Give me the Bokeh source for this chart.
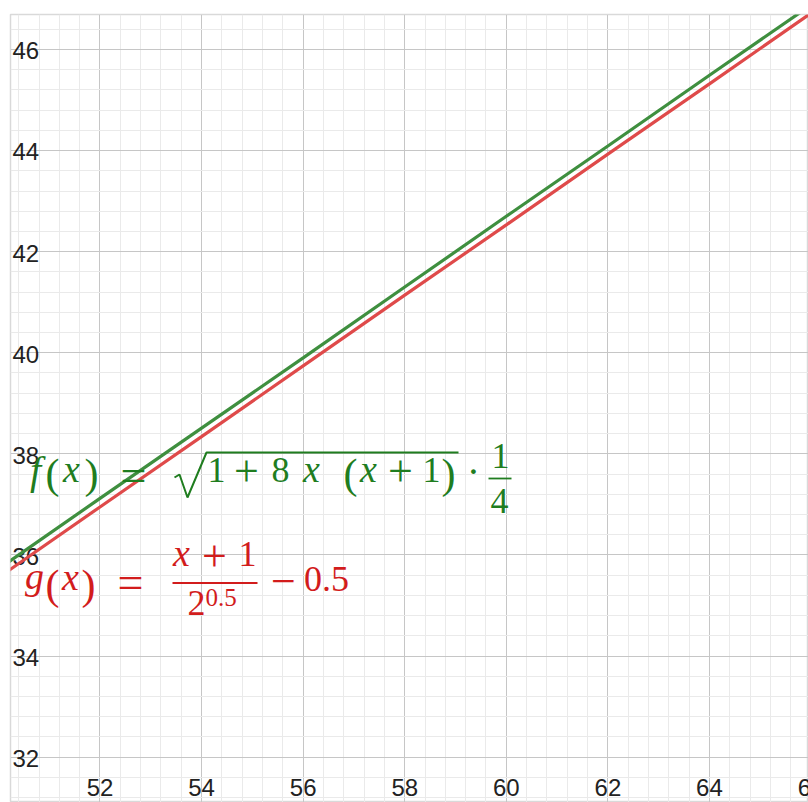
from bokeh.plotting import figure
from bokeh.models import SingleIntervalTicker
from bokeh.core.properties import value
from bokeh.embed import file_html
from bokeh.resources import INLINE

# ---- data ----
x_vals = [50, 52, 54, 56, 58, 60, 62, 64, 66]
f_vals = [35.72, 37.12, 38.51, 39.90, 41.30, 42.70, 44.09, 45.49, 46.88]
g_vals = [35.55, 36.95, 38.34, 39.74, 41.14, 42.53, 43.93, 45.32, 46.72]

x_ticks = [52, 54, 56, 58, 60, 62, 64, 66]
x_tick_labels = ["52", "54", "56", "58", "60", "62", "64", "66"]
y_ticks = [32, 34, 36, 38, 40, 42, 44, 46]
y_tick_labels = ["32", "34", "36", "38", "40", "42", "44", "46"]

# ---- view ----
X0, X1 = 50.238, 65.95
Y0, Y1 = 31.103, 46.692
FRAME_L, FRAME_T, FRAME_W, FRAME_H = 10, 14, 798, 788
SX = FRAME_W / (X1 - X0)
SY = FRAME_H / (Y1 - Y0)
SHIFT = 0.4  # baseline correction, fraction of font size


def X(px):
    return X0 + (px - FRAME_L) / SX


def Y(py):
    return Y1 - (py - FRAME_T) / SY


p = figure(width=808, height=802, x_range=(X0, X1), y_range=(Y0, Y1),
           output_backend="svg", toolbar_location=None,
           x_axis_location=None, y_axis_location=None,
           min_border=0, min_border_left=FRAME_L, min_border_top=FRAME_T,
           background_fill_color="white", border_fill_color="white")
p.outline_line_color = "#d9d9d9"
p.outline_line_width = 1.5

for g in (p.xgrid, p.ygrid):
    g.ticker = SingleIntervalTicker(interval=2, num_minor_ticks=5)
    g.grid_line_color = "#c6c6c6"
    g.grid_line_width = 1
    g.minor_grid_line_color = "#eaeaea"
    g.minor_grid_line_width = 1

# tick labels
p.text(x=x_ticks, y=[Y0] * len(x_ticks), text=x_tick_labels,
       text_align="center", text_baseline="alphabetic", y_offset=-5 - SHIFT * 24,
       text_font=value("Liberation Sans"), text_font_size="24px",
       text_color="#222222")
p.text(x=[X0] * len(y_ticks), y=y_ticks, text=y_tick_labels,
       text_align="left", text_baseline="alphabetic", x_offset=2,
       y_offset=11 - SHIFT * 24,
       text_font=value("Liberation Sans"), text_font_size="24px",
       text_color="#222222")

# curves
p.line(x_vals, f_vals, line_color="#3f8f3f", line_width=3.2)
p.line(x_vals, g_vals, line_color="#df4a4a", line_width=3.2)

GREEN = "#1f7d1f"
RED = "#d21c1c"


def lab(txt, cx, base, color, size=36, style="normal", align="center"):
    p.text(x=[X(cx)], y=[Y(base - SHIFT * size)], text=[txt], text_align=align,
           text_baseline="alphabetic", text_font=value("Liberation Serif"),
           text_font_size=f"{size}px", text_font_style=style,
           text_color=color)


# f(x) = sqrt(1 + 8 x (x + 1)) * 1/4
fb = 484
lab("f", 35, fb + 2, GREEN, size=40, style="italic")
lab("(", 52, 490, GREEN, size=42)
lab("x", 71, fb, GREEN, size=38, style="italic")
lab(")", 91, 490, GREEN, size=42)
lab("=", 133, 493, GREEN, size=46)
lab("1", 216, fb, GREEN)
lab("+", 246, 489, GREEN, size=44)
lab("8", 280, fb, GREEN)
lab("x", 311, fb, GREEN, size=38, style="italic")
lab("(", 350, 490, GREEN, size=42)
lab("x", 368, fb, GREEN, size=38, style="italic")
lab("+", 400, 489, GREEN, size=44)
lab("1", 431, fb, GREEN)
lab(")", 448, 490, GREEN, size=42)
lab("·", 473, 487, GREEN, size=40)
lab("1", 500, 470, GREEN)
lab("4", 499, 515, GREEN)
rad_px = [174, 179, 187, 206, 458]
rad_py = [477, 474, 497, 452, 452]
p.line([X(v) for v in rad_px], [Y(v) for v in rad_py], line_color=GREEN,
       line_width=2)
p.line([X(488), X(511)], [Y(478), Y(478)], line_color=GREEN, line_width=1.8)

# g(x) = (x + 1) / 2^0.5 - 0.5
gb = 591
lab("g", 34, gb, RED, size=38, style="italic")
lab("(", 52, 601, RED, size=42)
lab("x", 70, gb + 1, RED, size=38, style="italic")
lab(")", 88, 601, RED, size=42)
lab("=", 130, 600, RED, size=46)
lab("x", 181, 568, RED, size=38, style="italic")
lab("+", 214, 574, RED, size=44)
lab("1", 247, 568, RED)
p.line([X(172), X(257)], [Y(582.5), Y(582.5)], line_color=RED, line_width=1.8)
lab("2", 196, 617, RED)
lab("0.5", 205, 607, RED, size=25, align="left")
lab("\u2212", 283, 599, RED, size=44)
lab("0.5", 326, gb + 2, RED)

open("out.html", "w").write(file_html(p, INLINE))
